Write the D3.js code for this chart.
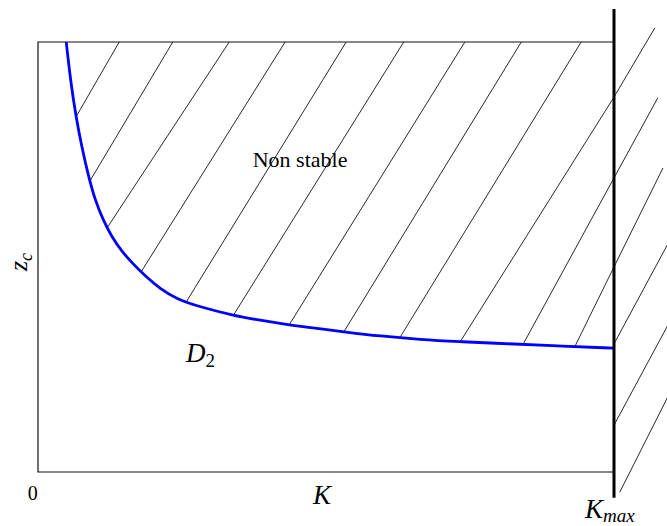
<!DOCTYPE html>
<html>
<head>
<meta charset="utf-8">
<script src="https://cdn.jsdelivr.net/npm/d3@7"></script>
<style>
  body { margin: 0; background: #fff; }
  svg { display: block; }
</style>
</head>
<body>
<script>
'use strict';

// stability boundary z_c(K)
const curveK = [0.49, 0.57, 0.66, 0.76, 0.88, 0.99, 1.13, 1.28, 1.46, 1.65, 1.86, 2.12, 2.41, 2.81, 3.39, 3.85, 4.36, 4.9, 5.31, 5.94, 6.63, 7.33, 8.02, 8.89, 10];
const curveZ = [10, 9.05, 8.26, 7.56, 6.86, 6.33, 5.86, 5.47, 5.12, 4.84, 4.56, 4.26, 4.02, 3.84, 3.64, 3.53, 3.42, 3.33, 3.26, 3.16, 3.08, 3.03, 2.99, 2.94, 2.88];

const kMax = 10;
const zTop = 10;

// hatch lines starting on the top edge: K at top, K where they hit the curve
const hatchTopK = [1.41, 2.34, 3.32, 4.29, 5.35, 6.35, 7.41, 8.39, 9.43];
const hatchTopFootK = [0.66, 0.90, 1.2, 1.79, 2.57, 3.39, 4.36, 5.31, 6.28];

// hatch lines starting on K = Kmax: z there, K where they hit the curve
const hatchEdgeZ = [8.72, 6.84, 4.77];
const hatchEdgeFootK = [7.33, 8.42, 9.32];

// hatching on the right of K = Kmax
const stripStartK = [10, 10, 10, 10, 10, 10.1];
const stripStartZ = [8.72, 6.84, 4.77, 2.98, 1.09, -0.47];
const stripEndK = [10.71, 10.76, 10.85, 11.01, 11.01, 11.01];
const stripEndZ = [10.33, 8.70, 7.07, 5.49, 3.6, 1.95];

const kMaxLineZ = [-0.6, 10.77];

const width = 667, height = 526;
const svg = d3.select('body').append('svg')
  .attr('width', width)
  .attr('height', height);

const x = d3.scaleLinear().domain([0, 10]).range([38, 614]);
const y = d3.scaleLinear().domain([0, 10]).range([472, 42]);

// z on the curve for a given K (linear between read points)
function curveAt(k) {
  let i = d3.bisectRight(curveK, k);
  if (i <= 0) return curveZ[0];
  if (i >= curveK.length) return curveZ[curveZ.length - 1];
  let t = (k - curveK[i - 1]) / (curveK[i] - curveK[i - 1]);
  return curveZ[i - 1] + t * (curveZ[i] - curveZ[i - 1]);
}

// hatch segments as [k1, z1, k2, z2]
let hatch = [];
hatchTopK.forEach((k, i) => {
  let f = hatchTopFootK[i];
  hatch.push([k, zTop, f, curveAt(f)]);
});
hatchEdgeZ.forEach((z, i) => {
  let f = hatchEdgeFootK[i];
  hatch.push([kMax, z, f, curveAt(f)]);
});
stripStartK.forEach((k, i) => {
  hatch.push([k, stripStartZ[i], stripEndK[i], stripEndZ[i]]);
});

svg.append('g').selectAll('line')
  .data(hatch)
  .enter()
  .append('line')
    .attr('x1', d => x(d[0]))
    .attr('y1', d => y(d[1]))
    .attr('x2', d => x(d[2]))
    .attr('y2', d => y(d[3]))
    .attr('stroke', '#111')
    .attr('stroke-width', 0.9);

// frame (left, bottom, top)
svg.append('path')
  .attr('d', 'M' + x(kMax) + ',' + y(zTop) + 'H' + x(0) + 'V' + y(0) + 'H' + x(kMax))
  .attr('fill', 'none')
  .attr('stroke', '#111')
  .attr('stroke-width', 1.2);

// boundary curve
let pts = curveK.map((k, i) => [k, curveZ[i]]);
svg.append('path')
  .datum(pts)
  .attr('d', d3.line().x(d => x(d[0])).y(d => y(d[1])).curve(d3.curveBasis))
  .attr('fill', 'none')
  .attr('stroke', '#0000ff')
  .attr('stroke-width', 2.8);

// K = Kmax
svg.append('line')
  .attr('x1', x(kMax)).attr('x2', x(kMax))
  .attr('y1', y(kMaxLineZ[0])).attr('y2', y(kMaxLineZ[1]))
  .attr('stroke', '#000')
  .attr('stroke-width', 3);

// labels
const serif = 'Liberation Serif';

svg.append('text')
  .attr('x', x(4.55)).attr('y', y(7.09))
  .attr('text-anchor', 'middle')
  .attr('font-family', serif)
  .attr('font-size', 22)
  .text('Non stable');

let d2 = svg.append('text')
  .attr('x', x(2.57)).attr('y', y(2.56))
  .attr('font-family', serif)
  .attr('font-size', 27);
d2.append('tspan').attr('font-style', 'italic').text('D');
d2.append('tspan').attr('dy', 5).attr('font-size', 19).text('2');

svg.append('text')
  .attr('x', x(-0.09)).attr('y', 500)
  .attr('text-anchor', 'middle')
  .attr('font-family', serif)
  .attr('font-size', 20)
  .text('0');

svg.append('text')
  .attr('x', x(4.93)).attr('y', 504)
  .attr('text-anchor', 'middle')
  .attr('font-family', serif)
  .attr('font-style', 'italic')
  .attr('font-size', 27)
  .text('K');

let km = svg.append('text')
  .attr('x', x(kMax) - 29).attr('y', 518)
  .attr('font-family', serif)
  .attr('font-style', 'italic')
  .attr('font-size', 27);
km.append('tspan').text('K');
km.append('tspan').attr('dy', 4).attr('font-size', 19).text('max');

let zc = svg.append('text')
  .attr('transform', 'translate(27, 271)rotate(-90)')
  .attr('font-family', serif)
  .attr('font-style', 'italic')
  .attr('font-size', 26);
zc.append('tspan').text('z');
zc.append('tspan').attr('dy', 5).attr('font-size', 18).text('c');
</script>
</body>
</html>
